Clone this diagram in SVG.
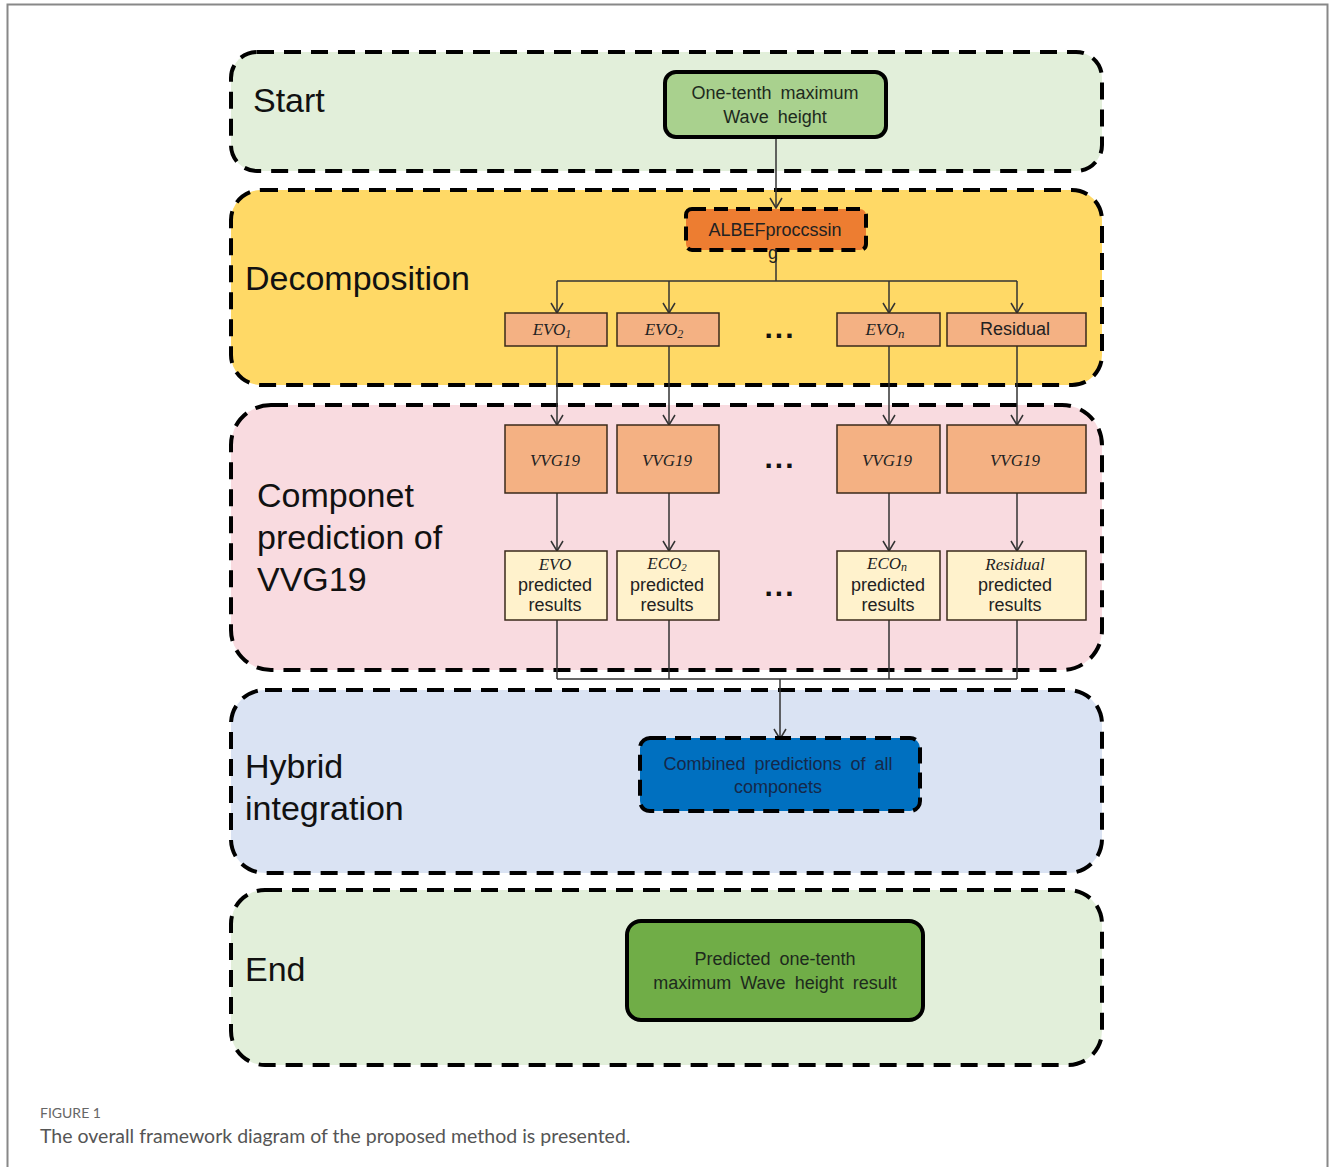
<svg xmlns="http://www.w3.org/2000/svg" width="1330" height="1167" viewBox="0 0 1330 1167">
<defs>
<style>
.panel{stroke:#000;stroke-width:4;stroke-dasharray:17 10;}
.lbl{font-family:"Liberation Sans",Arial,sans-serif;font-size:34px;fill:#111;}
.bt{font-family:"Liberation Sans",Arial,sans-serif;font-size:18px;fill:#1d2a1d;text-anchor:middle;word-spacing:4px;}
.mt{font-family:"Liberation Serif","DejaVu Serif",serif;font-style:italic;font-size:17px;fill:#222;text-anchor:middle;}
.sm{font-family:"Liberation Sans",Arial,sans-serif;font-size:18px;fill:#222;text-anchor:middle;}
.comp{fill:#f4b183;stroke:#3a2a1a;stroke-width:1.5;}
.res{fill:#fff2cc;stroke:#3a2a1a;stroke-width:1.5;}
.conn{fill:none;stroke:#333;stroke-width:1.5;}
.dots{font-family:"Liberation Sans",Arial,sans-serif;font-size:30px;font-weight:bold;fill:#111;text-anchor:middle;letter-spacing:2px;}
</style>
<marker id="arr" markerWidth="14" markerHeight="14" refX="12" refY="7" orient="auto" markerUnits="userSpaceOnUse" viewBox="0 0 14 14">
<path d="M2,1 L12,7 L2,13" fill="none" stroke="#333" stroke-width="1.5"/>
</marker>
</defs>
<rect width="1330" height="1167" fill="#fff"/>
<path d="M7.5,1167 V4.5 H1327.5 V1167" fill="none" stroke="#888" stroke-width="2"/>

<g id="panel-start">
<rect class="panel" x="231" y="52" width="871" height="119" rx="26" fill="#e2efda"/>
<text class="lbl" x="253" y="112">Start</text>
</g>
<g id="panel-decomposition">
<rect class="panel" x="231" y="190" width="871" height="195" rx="30" fill="#ffd966"/>
<text class="lbl" x="245" y="290">Decomposition</text>
</g>
<g id="panel-component">
<rect class="panel" x="231" y="405" width="871" height="265" rx="40" fill="#f9dbe0"/>
<text class="lbl" x="257" y="507">Componet</text>
<text class="lbl" x="257" y="549">prediction of</text>
<text class="lbl" x="257" y="591">VVG19</text>
</g>
<g id="panel-hybrid">
<rect class="panel" x="231" y="690" width="871" height="183" rx="34" fill="#dae3f3"/>
<text class="lbl" x="245" y="778">Hybrid</text>
<text class="lbl" x="245" y="820">integration</text>
</g>
<g id="panel-end">
<rect class="panel" x="231" y="890" width="871" height="175" rx="34" fill="#e2efda"/>
<text class="lbl" x="245" y="981">End</text>
</g>

<g id="connectors">
<line class="conn" x1="776" y1="137" x2="776" y2="208" marker-end="url(#arr)"/>
<path class="conn" d="M776,250 V281 M557,281 H1017"/>
<line class="conn" x1="557" y1="281" x2="557" y2="313" marker-end="url(#arr)"/>
<line class="conn" x1="669" y1="281" x2="669" y2="313" marker-end="url(#arr)"/>
<line class="conn" x1="889" y1="281" x2="889" y2="313" marker-end="url(#arr)"/>
<line class="conn" x1="1017" y1="281" x2="1017" y2="313" marker-end="url(#arr)"/>
<line class="conn" x1="557" y1="346" x2="557" y2="425" marker-end="url(#arr)"/>
<line class="conn" x1="669" y1="346" x2="669" y2="425" marker-end="url(#arr)"/>
<line class="conn" x1="889" y1="346" x2="889" y2="425" marker-end="url(#arr)"/>
<line class="conn" x1="1017" y1="346" x2="1017" y2="425" marker-end="url(#arr)"/>
<line class="conn" x1="557" y1="493" x2="557" y2="551" marker-end="url(#arr)"/>
<line class="conn" x1="669" y1="493" x2="669" y2="551" marker-end="url(#arr)"/>
<line class="conn" x1="889" y1="493" x2="889" y2="551" marker-end="url(#arr)"/>
<line class="conn" x1="1017" y1="493" x2="1017" y2="551" marker-end="url(#arr)"/>
<path class="conn" d="M557,620 V679 M669,620 V679 M889,620 V679 M1017,620 V679 M557,679 H1017"/>
<line class="conn" x1="780" y1="679" x2="780" y2="739" marker-end="url(#arr)"/>
</g>

<g id="node-input">
<rect x="665" y="72" width="221" height="65" rx="11" fill="#a9d18e" stroke="#000" stroke-width="4"/>
<text class="bt" x="775" y="99">One-tenth maximum</text>
<text class="bt" x="775" y="123">Wave height</text>
</g>
<g id="node-albef">
<rect x="686" y="209" width="180" height="41" rx="6" fill="#ed7d31" stroke="#000" stroke-width="4" stroke-dasharray="14 8"/>
<text class="sm" x="775" y="236">ALBEFproccssin</text>
<text class="sm" x="773" y="259">g</text>
</g>

<g id="node-evo1"><rect class="comp" x="505" y="313" width="102" height="33"/><text class="mt" x="552" y="335">EVO<tspan font-size="12" dy="3">1</tspan></text></g>
<g id="node-evo2"><rect class="comp" x="617" y="313" width="102" height="33"/><text class="mt" x="664" y="335">EVO<tspan font-size="12" dy="3">2</tspan></text></g>
<text class="dots" x="780" y="338">...</text>
<g id="node-evon"><rect class="comp" x="837" y="313" width="103" height="33"/><text class="mt" x="885" y="335">EVO<tspan font-size="13" dy="3">n</tspan></text></g>
<g id="node-residual"><rect class="comp" x="947" y="313" width="139" height="33"/><text class="sm" x="1015" y="335">Residual</text></g>

<g id="node-vvg1"><rect class="comp" x="505" y="425" width="102" height="68"/><text class="mt" x="555" y="466">VVG19</text></g>
<g id="node-vvg2"><rect class="comp" x="617" y="425" width="102" height="68"/><text class="mt" x="667" y="466">VVG19</text></g>
<text class="dots" x="780" y="468">...</text>
<g id="node-vvgn"><rect class="comp" x="837" y="425" width="103" height="68"/><text class="mt" x="887" y="466">VVG19</text></g>
<g id="node-vvgr"><rect class="comp" x="947" y="425" width="139" height="68"/><text class="mt" x="1015" y="466">VVG19</text></g>

<g id="node-res1"><rect class="res" x="505" y="551" width="102" height="69"/><text class="mt" x="555" y="570">EVO</text><text class="sm" x="555" y="591">predicted</text><text class="sm" x="555" y="611">results</text></g>
<g id="node-res2"><rect class="res" x="617" y="551" width="102" height="69"/><text class="mt" x="667" y="569">ECO<tspan font-size="11" dy="2">2</tspan></text><text class="sm" x="667" y="591">predicted</text><text class="sm" x="667" y="611">results</text></g>
<text class="dots" x="780" y="596">...</text>
<g id="node-resn"><rect class="res" x="837" y="551" width="103" height="69"/><text class="mt" x="887" y="569">ECO<tspan font-size="12" dy="2">n</tspan></text><text class="sm" x="888" y="591">predicted</text><text class="sm" x="888" y="611">results</text></g>
<g id="node-resr"><rect class="res" x="947" y="551" width="139" height="69"/><text class="mt" x="1015" y="570">Residual</text><text class="sm" x="1015" y="591">predicted</text><text class="sm" x="1015" y="611">results</text></g>

<g id="node-combined">
<rect x="640" y="738" width="280" height="73" rx="10" fill="#0070c0" stroke="#000" stroke-width="4" stroke-dasharray="16 9"/>
<text class="bt" x="778" y="770" style="fill:#15284a">Combined predictions of all</text>
<text class="bt" x="778" y="793" style="fill:#15284a">componets</text>
</g>
<g id="node-end">
<rect x="627" y="921" width="296" height="99" rx="14" fill="#70ad47" stroke="#000" stroke-width="4"/>
<text class="bt" x="775" y="965">Predicted one-tenth</text>
<text class="bt" x="775" y="989">maximum Wave height result</text>
</g>

<text x="40" y="1118" font-family="Lato,'Open Sans',sans-serif" font-size="14" fill="#666">FIGURE 1</text>
<text x="40" y="1143" font-family="Lato,'Open Sans',sans-serif" font-size="19.5" fill="#555">The overall framework diagram of the proposed method is presented.</text>
</svg>
